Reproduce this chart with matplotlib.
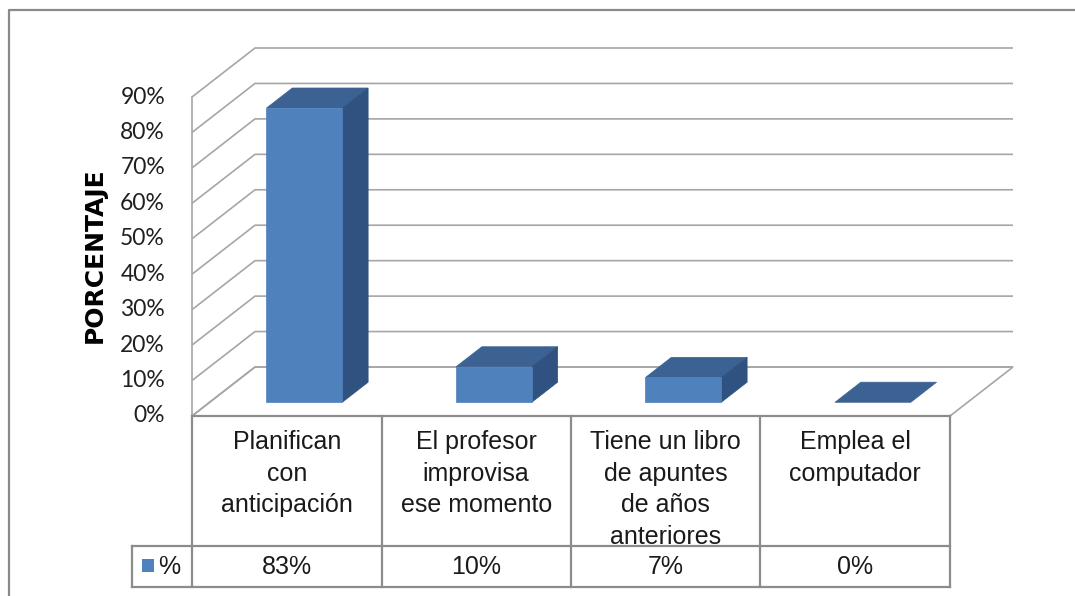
import matplotlib
matplotlib.use("Agg")
import matplotlib.pyplot as plt
from matplotlib.patches import Polygon, Rectangle

# ---- data -----------------------------------------------------------------
categories = [
    "Planifican\ncon\nanticipación",
    "El profesor\nimprovisa\nese momento",
    "Tiene un libro\nde apuntes\nde años\nanteriores",
    "Emplea el\ncomputador",
]
values = [83, 10, 7, 0]
value_labels = ["83%", "10%", "7%", "0%"]
y_ticks = [0, 10, 20, 30, 40, 50, 60, 70, 80, 90]
y_tick_labels = [f"{t}%" for t in y_ticks]
series_name = "%"
y_title = "PORCENTAJE"

# ---- layout (pixel geometry of the canvas) --------------------------------
W, H = 1075, 596
X0_PX, CAT_PX = 192.0, 189.5          # left of plot front plane, px per category
Y0_PX, PCT_PX = 416.0, 319.0 / 90.0   # floor front edge, px per percent
DEPTH_DX_PX, DEPTH_DY_PX = 63.0, 49.0 # oblique depth offset of the back wall

DX = DEPTH_DX_PX / CAT_PX             # depth offset in data units
DY = DEPTH_DY_PX / PCT_PX

def px(xp, yp):
    """Convert canvas pixel position to data coordinates."""
    return (xp - X0_PX) / CAT_PX, (Y0_PX - yp) / PCT_PX

FRONT = "#4F81BD"
TOP = "#3B6292"
SIDE = "#2F5280"
GRID = "#A6A6A6"
TABLE = "#8C8C8C"
TXT = "#1A1A1A"

fig = plt.figure(figsize=(W / 100, H / 100), dpi=100)
ax = fig.add_axes([0, 0, 1, 1])
xl0, yl1 = px(0, 0)
xl1, yl0 = px(W, H)
ax.set_xlim(xl0, xl1)
ax.set_ylim(yl0, yl1)
ax.axis("off")

n = len(categories)
ymax = y_ticks[-1]

# outer chart border (left and top)
bx, by = px(9, 10)
_, bb = px(9, H + 5)
bxr, _ = px(W + 5, 10)
ax.plot([bx, bx, bxr], [bb, by, by], color="#8A8A8A", lw=1.6, zorder=1)

# floor
floor = Polygon([(0, 0), (n, 0), (n + DX, DY), (DX, DY)], closed=True,
                facecolor="white", edgecolor=GRID, lw=1.2, zorder=2)
ax.add_patch(floor)

# gridlines on back and side walls
for t in y_ticks:
    ax.plot([0, DX, n + DX], [t, t + DY, t + DY], color=GRID, lw=1.2,
            zorder=2, solid_capstyle="butt")
ax.plot([0, 0], [0, ymax], color=GRID, lw=1.2, zorder=2)

# 3-D columns
bar_w = 0.40
d0, d1 = 0.28, 0.69
for i, v in enumerate(values):
    c = i + 0.5
    xa, xb = c - bar_w / 2, c + bar_w / 2
    fx0, fx1 = xa + d0 * DX, xb + d0 * DX
    fy0 = d0 * DY
    bx0, bx1 = xa + d1 * DX, xb + d1 * DX
    by0 = d1 * DY
    top = Polygon([(fx0, v + fy0), (fx1, v + fy0), (bx1, v + by0), (bx0, v + by0)],
                  closed=True, facecolor=TOP, edgecolor=TOP, lw=0.5, zorder=5)
    ax.add_patch(top)
    if v > 0:
        side = Polygon([(fx1, fy0), (bx1, by0), (bx1, v + by0), (fx1, v + fy0)],
                       closed=True, facecolor=SIDE, edgecolor=SIDE, lw=0.5, zorder=5)
        ax.add_patch(side)
        front = Rectangle((fx0, fy0), fx1 - fx0, v, facecolor=FRONT,
                          edgecolor=FRONT, lw=0.5, zorder=6)
        ax.add_patch(front)

# y tick labels
lx, _ = px(165, 0)
for t, lab in zip(y_ticks, y_tick_labels):
    ax.text(lx, t, lab, ha="right", va="center", fontsize=16.5,
            family="Lato", color="#202020", zorder=7)

# axis title
tx, ty = px(95, 255)
ax.text(tx, ty, y_title, rotation=90, ha="center", va="center",
        fontsize=18, family="DejaVu Sans", fontweight="bold", color="black")

# data table
_, r1 = px(0, 546)
_, r2 = px(0, 587)
kx, _ = px(132, 0)
tl = dict(color=TABLE, lw=1.6, zorder=4, solid_capstyle="projecting")
ax.plot([0, n], [0, 0], **tl)
ax.plot([kx, n], [r1, r1], **tl)
ax.plot([kx, n], [r2, r2], **tl)
ax.plot([kx, kx], [r1, r2], **tl)
for j in range(n + 1):
    ax.plot([j, j], [0, r2], **tl)

_, ct = px(0, 430)
for i, (cat, vl) in enumerate(zip(categories, value_labels)):
    ax.text(i + 0.5, ct, cat, ha="center", va="top", fontsize=18,
            family="Liberation Sans", color=TXT, linespacing=1.4)
    ax.text(i + 0.5, (r1 + r2) / 2, vl, ha="center", va="center",
            fontsize=18, family="Liberation Sans", color=TXT)

# legend key inside the table
sx0, sy0 = px(142, 572)
sx1, sy1 = px(154, 559)
ax.add_patch(Rectangle((sx0, sy0), sx1 - sx0, sy1 - sy0, facecolor=FRONT,
                       edgecolor="none", zorder=5))
gx, _ = px(158, 0)
ax.text(gx, (r1 + r2) / 2, series_name, ha="left", va="center", fontsize=18,
        family="Liberation Sans", color=TXT)

fig.savefig("out.png", dpi=100, facecolor="white")
